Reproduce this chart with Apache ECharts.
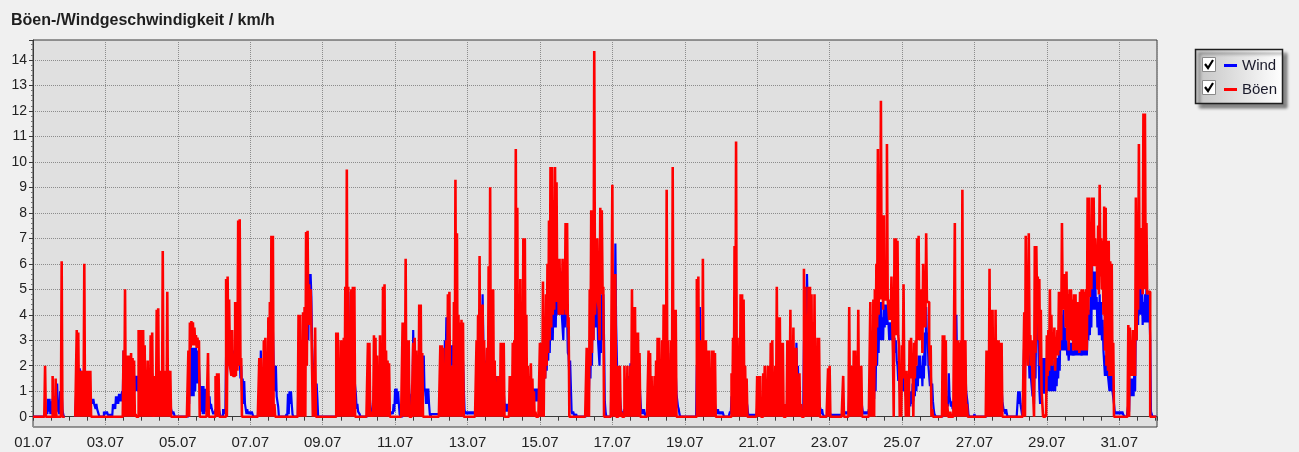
<!DOCTYPE html>
<html>
<head>
<meta charset="utf-8">
<script src="https://cdn.jsdelivr.net/npm/echarts/dist/echarts.min.js"></script>
<style>
html,body{margin:0;padding:0;background:#f0f0f0;}
#chart{width:1299px;height:452px;}
</style>
</head>
<body>
<div id="chart"></div>
<script>
// x values are hours since 01.07 00:00; tick labels every 2 days
const dateLabels = ['01.07','03.07','05.07','07.07','09.07','11.07','13.07','15.07',
                    '17.07','19.07','21.07','23.07','25.07','27.07','29.07','31.07'];
const seriesNames = ['Wind', 'Böen'];

// Böen (gusts) km/h: hourly upper values, one row per day (01.07 ... 31.07)
const gustHigh = [
[0,0,0,0,0,0,0,0,2.0,0,0,0,0,1.6,0,1.5,0,0,0,6.1,0,null,null,null],
[null,null,null,null,0,3.4,3.3,1.8,1.8,1.8,6.0,1.8,1.8,1.8,1.8,0,0,0,0,0,0,0,0,0],
[0,0,0,0,0,0,0,0,0,0,0,0,2.6,5.0,2.4,2.4,2.4,2.5,2.3,2.2,0.1,0,3.4,3.4],
[3.4,3.4,2.8,1.7,2.2,1.6,3.2,3.3,0.2,1.6,4.2,4.25,1.8,0.3,6.5,1.8,0.4,4.9,1.8,1.8,0,0,0,0],
[0,0,0,0,0,0,0,2.6,3.7,3.75,3.7,3.5,3.2,3.1,3.0,0,0,0,0,0,2.5,0,0,0],
[0,1.6,1.7,1.7,0,0,0,0,5.4,5.5,4.6,2.0,3.4,1.6,4.5,4.5,7.7,7.75,2.3,0,0,0,0,0],
[0,0,0,0,0,0,2.3,2.3,0.3,3.0,3.1,0.4,3.9,4.5,7.1,7.1,0.5,0,0,0,0,0,0,0],
[0,0,0,0,0,0,0,0,4.0,4.0,0.5,4.1,4.3,7.25,7.3,5.2,5.0,3.6,0.6,3.5,0,0,0,0],
[0,0,0,0,0,0,0,0,0,3.3,3.3,0.3,3.0,3.0,3.1,5.1,9.7,5.1,2.1,5.0,5.1,5.1,0,0],
[0,0,0,0,0,0,2.9,2.9,0.2,0.1,3.2,3.1,2.4,0.3,3.2,2.6,5.1,5.2,2.6,2.2,2.1,0,0,0],
[0,0,0,0,0,3.7,3.7,6.2,3.0,3.0,0,0,2.9,3.1,2.6,0.8,4.4,4.4,2.5,0,0,0,0,0],
[0,0,0,0,0,0,2.8,2.8,2.7,1.5,3.0,4.8,4.9,0.5,2.0,4.5,9.3,7.2,4.0,3.7,3.8,3.7,0,0],
[0,0,0,0,0,0,3.0,4.0,6.3,4.4,4.4,3.0,0.4,2.7,5.9,9.0,5.0,5.0,2.2,0.4,1.6,1.6,2.9,2.9],
[2.9,0,0,0,1.6,1.6,2.9,3.0,10.5,8.2,4.4,5.4,1.6,7.0,7.0,4.0,2.0,1.6,2.1,1.5,1.0,0.2,0,0],
[2.9,2.9,5.3,3.5,4.8,6.0,7.7,9.8,9.8,8.5,9.8,9.2,5.8,6.2,5.2,6.2,5.6,7.6,7.6,3.9,0,0,0,0],
[0,0,0,0,0,0,0,2.7,2.6,5.0,8.1,6.4,14.35,5.0,7.0,4.2,8.2,8.1,5.1,0,0,0,0,0],
[9.1,5.6,5.6,0,2.0,2.0,0.2,0,2.0,0.3,2.0,1.2,2.0,5.0,4.3,4.3,3.3,3.3,2.5,0,0,0,0,0],
[2.6,2.5,1.6,1.2,1.6,2.2,3.1,3.1,1.8,3.0,4.4,3.0,8.9,3.0,2.0,3.0,9.8,4.2,4.2,0,0,0,0,0],
[0,0,0,0,0,0,0,0,5.4,5.5,3.0,1.5,6.2,3.0,3.0,2.6,2.6,1.0,2.6,2.6,2.5,0,0,0],
[0,0,0,0,0,0,0,1.7,3.1,6.7,10.8,3.1,2.0,4.8,4.8,4.6,2.0,1.5,0,0,0,0,0,0],
[1.6,1.6,1.6,0,1.7,2.0,1.0,2.0,2.0,2.9,3.0,1.6,2.0,5.1,3.9,3.9,2.9,2.9,0,0.5,3.0,3.0,4.2,3.0],
[3.5,2.7,2.7,1.5,1.7,0.5,0,5.8,5.1,4.0,5.1,5.1,4.8,3.7,4.8,2.0,3.1,3.1,0,0,0,0,0,1.9],
[2.0,0,0,0,0,0,0,0,0,1.6,0,0,0,4.3,2.0,2.0,2.6,2.6,1.5,4.2,2.0,2.0,0,0],
[0,0,0,4.5,0.8,4.6,5.0,6.0,10.5,8.0,12.4,5.8,7.9,4.6,10.7,4.2,4.6,5.5,2.5,7.0,7.0,6.9,2.8,1.6],
[2.8,5.2,1.8,1.8,1.5,3.0,3.1,2.0,2.9,3.0,7.0,7.1,5.0,5.0,6.0,4.8,7.2,4.5,2.8,2.8,0.3,0,0,0],
[0,0,0,3.2,3.2,3.0,0.5,0,0.2,0,0,7.6,1.5,3.0,2.9,3.0,8.9,3.0,3.0,0.5,0,0,0,0],
[0,0,0,0,0,0,0,0,2.6,2.6,5.8,4.2,4.2,3.0,4.2,3.0,3.0,2.9,2.9,0,0,0,0,0],
[0,0,0,0,0,0,0,0,0,4.1,7.1,3.2,7.2,3.2,3.0,1.5,6.7,6.7,5.5,5.4,4.2,1.0,0,0.1],
[3.2,3.4,5.0,4.0,3.0,3.5,3.0,3.4,4.9,4.5,7.6,5.6,5.6,5.7,4.8,5.0,5.0,4.6,4.8,4.8,4.5,4.5,4.9,5.0],
[5.0,4.9,5.0,8.6,8.6,6.5,8.6,8.6,7.0,6.5,7.5,9.1,7.0,6.9,8.25,8.2,6.9,6.9,6.1,6.0,2.9,0,0,0],
[0,0,0,0,0,0,3.6,3.5,3.0,3.4,3.0,8.6,6.6,10.7,7.4,6.6,11.9,11.9,7.6,4.9,4.9,0,0,0,0]
];

// Böen km/h: hourly lower values (bottom of the band the gusts sweep within each hour)
const Z24 = [0,0,0,0,0,0,0,0,0,0,0,0,0,0,0,0,0,0,0,0,0,0,0,0];
const gustLow = [
[0,0,0,0,0,0,0,0,0,0,0,0,0,0,0,0,0,0,0,0,0,null,null,null],
[null,null,null,null,0,0,0,0,0,0,0,0,0,0,0,0,0,0,0,0,0,0,0,0],
Z24, Z24,
[0,0,0,0,0,0,0,0,2.7,2.8,2.8,2.8,2.7,2.7,0,0,0,0,0,0,0,0,0,0],
[0,0,0,0,0,0,0,0,0,2.0,2.0,1.6,1.6,1.6,1.6,1.8,2.0,2.0,0,0,0,0,0,0],
Z24,
[0,0,0,0,0,0,0,0,0,0,0,0,0,2.0,3.6,3.6,3.6,0,0,0,0,0,0,0],
Z24, Z24, Z24, Z24, Z24, Z24,
[0,0,0,1.5,2.0,2.5,3.0,3.5,4.0,4.2,4.5,4.5,4.0,4.0,4.0,4.0,4.2,4.0,3.5,0,0,0,0,0],
[0,0,0,0,0,0,0,0,0,2.0,2.5,3.0,4.0,4.5,4.5,3.0,4.8,5.0,0,0,0,0,0,0],
Z24, Z24, Z24, Z24, Z24, Z24, Z24,
[0,0,0,0,0,0,2.0,3.5,4.0,4.6,4.6,4.2,4.6,4.6,4.6,3.8,3.8,3.8,0,3.2,3.2,3.2,0,0],
[1.5,1.5,0,0,0,1.5,1.5,0,1.5,2.0,3.0,3.0,3.0,2.5,3.5,3.5,4.5,4.5,2.0,0,0,0,0,0],
Z24, Z24,
[0,0,0,0,0,0,0,0,0,0,3.0,2.0,3.0,2.0,1.5,0,2.5,4.5,3.0,2.0,1.0,0,0,0],
[1.6,1.8,2.0,2.0,2.4,1.8,2.4,2.4,2.6,3.0,4.2,4.2,3.5,3.0,2.6,3.0,3.0,2.6,2.6,2.6,2.6,2.5,2.6,2.6],
[2.6,2.6,2.6,4.0,4.7,5.0,5.9,5.9,5.9,5.0,4.8,5.5,5.0,4.0,2.6,2.0,1.8,1.6,1.6,1.6,0,0,0,0],
[0,0,0,0,0,0,0,1.6,1.6,1.6,1.6,3.0,4.2,5.0,5.0,4.8,5.0,5.0,4.8,4.9,0,0,0,0,0]
];

// Wind km/h: hourly upper values
const windHigh = [
[0,0,0,0,0,0,0,0,0.3,0.3,0.7,0.7,0.6,0.7,0.8,0.7,1.3,0.3,1.0,1.0,0.1,null,null,null],
[null,null,null,null,0,1.5,1.9,1.9,1.8,1.0,1.8,1.5,1.0,0.9,0.9,0.7,0.7,0.5,0.5,0.2,0,0,0,0.2],
[0.2,0.2,0.1,0.1,0.1,0.5,0.5,0.8,0.8,0.9,0.9,1.0,2.6,1.5,1.4,1.4,1.4,1.8,1.4,1.5,1.6,1.6,1.6,1.2],
[1.5,1.6,1.6,1.6,1.2,1.6,1.8,1.7,1.0,1.6,1.7,1.5,1.05,1.0,1.8,1.5,1.2,1.8,1.8,0.8,0.2,0.2,0,0],
[0,0,0,0,0,0,0,1.4,2.0,2.7,2.7,2.7,2.7,2.6,2.0,1.35,1.2,1.2,1.1,0.6,1.0,0.8,0.5,0.2],
[0.2,0.3,0.3,0.4,0.1,0,0.3,0.3,2.5,2.6,2.6,3.4,2.6,2.6,2.6,3.7,3.7,2.4,2.0,1.5,1.4,0.5,0.3,0.2],
[0.2,0.2,0,0,0,0,1.0,2.6,1.0,1.2,1.4,0.8,1.0,1.5,3.0,3.4,2.0,2.0,0.8,0,0,0,0,0],
[0.1,0.9,1.0,1.0,0.1,0,0,0,2.0,1.8,2.2,2.5,3.0,4.0,5.0,5.6,5.6,2.8,2.1,1.3,1.3,0,0,0],
[0,0,0,0,0,0,0,0,0,1.0,1.8,1.5,1.8,2.0,2.2,2.8,4.8,4.9,2.2,3.9,3.5,2.0,0.9,0.5],
[0.2,0,0,0,0,0,0.7,1.0,0.3,0.3,1.2,1.5,1.8,1.2,1.4,1.3,1.2,1.5,1.2,1.0,0.4,0.2,0.2,0.5],
[1.1,1.1,1.0,0.1,0,0.8,1.5,2.0,2.0,1.6,0.3,0.9,3.4,2.9,1.5,1.4,1.4,2.0,1.4,2.4,1.1,1.1,1.1,0.1],
[0.1,0.1,0.1,0.1,0.1,0.1,1.5,2.0,2.5,3.0,3.9,2.9,2.8,2.8,2.8,3.0,3.8,3.8,3.0,3.0,2.8,2.2,0.3,0.2],
[0.2,0.2,0.2,0.2,0.2,0.2,2.0,2.9,3.0,3.8,4.8,2.6,2.2,2.0,3.0,3.6,3.0,2.2,1.8,1.6,0.8,1.0,1.2,1.0],
[1.0,0.5,0.5,0.5,0.6,0.9,1.2,1.5,3.0,2.5,2.5,1.5,2.8,2.4,2.4,2.0,1.8,1.6,1.2,1.0,1.1,1.1,1.1,1.1],
[1.1,1.5,2.0,2.5,2.8,3.5,4.0,4.2,4.2,4.8,5.0,5.7,5.5,5.7,5.7,4.0,4.5,5.2,4.0,2.4,2.2,0.2,0.2,0],
[0.1,0,0,0,0,0,0,1.0,2.0,2.5,3.5,5.5,5.5,5.5,4.5,3.0,4.0,4.8,4.8,0.6,0,0,0,0],
[3.8,3.8,6.8,3.6,1.0,0.8,0.2,0.2,0.3,1.0,1.5,1.6,2.1,2.2,2.3,2.5,2.2,1.8,1.5,0.3,0.3,0.3,0.1,0.2],
[1.2,1.4,1.2,1.0,1.0,1.3,1.6,1.6,1.6,1.6,1.7,2.0,2.5,2.5,2.2,1.8,2.5,2.2,1.8,0.9,0.3,0,0,0],
[0,0,0,0,0,0,0,0,2.0,3.0,4.3,1.6,2.5,2.8,1.6,1.5,1.2,1.0,1.3,1.5,0.5,0.3,0.3,0.2],
[0.2,0.2,0,0,0,0,0.2,0.8,1.7,2.5,2.5,2.0,1.7,1.5,1.6,1.6,1.5,0.8,0.1,0.1,0.1,0.1,0.1,0.1],
[0.4,0.3,0.5,0.3,0.8,1.0,1.0,1.2,1.4,1.5,1.7,1.7,1.5,1.7,1.5,1.3,1.1,0.6,0.3,0.3,1.0,1.7,2.0,2.9],
[1.0,1.0,2.9,2.0,0.8,0.3,0.3,3.0,3.5,5.6,4.2,3.8,2.5,2.1,2.1,1.0,1.0,0.8,0.3,0.3,0.1,0,0,0.3],
[0.2,0.1,0.1,0.1,0.1,0.1,0.1,0.1,0.1,0.2,0.2,0.2,0.2,1.0,1.5,1.2,1.5,1.2,1.0,1.6,1.4,0.8,0.2,0.2],
[0.2,0.2,0.3,0.7,0.7,1.5,2.0,3.5,3.9,4.5,4.5,3.9,4.4,4.4,4.4,3.7,3.7,3.7,3.1,3.1,3.0,2.0,1.7,1.7],
[1.7,2.0,1.5,1.3,1.0,0.8,1.0,1.3,1.5,1.8,2.0,2.4,2.4,2.0,2.4,3.3,4.3,3.3,2.0,1.8,1.3,0.3,0.1,0],
[0,0,0,0.5,0.8,0.8,0.8,1.7,0.8,0.6,0.5,3.0,4.0,1.5,2.9,2.2,3.0,3.0,2.0,1.0,0.1,0,0,0],
[0.1,0,0,0,0,0,0,0,1.5,1.5,2.0,2.7,2.0,2.7,2.0,2.0,1.7,1.8,1.2,0.4,0.3,0.3,0,0],
[0,0,0,0,0,1.0,1.0,0.3,0,3.0,3.5,4.3,2.4,2.4,1.5,1.0,2.5,4.2,3.7,1.1,2.0,2.3,2.3,2.3],
[2.2,2.3,2.3,2.2,2.0,2.2,2.3,2.3,2.5,3.5,4.0,4.2,3.5,3.0,2.6,2.9,2.9,2.6,2.6,2.9,2.9,2.8,2.8,2.6],
[2.8,2.8,2.9,3.5,4.2,4.7,5.9,5.7,5.7,4.7,4.5,4.8,4.5,3.8,2.6,2.4,2.4,1.6,1.6,1.6,1.0,0.2,0.2,0.2],
[0.2,0.2,0.2,0.1,0,0,0.5,1.5,1.5,1.5,2.0,4.0,5.8,6.7,5.7,5.0,4.5,4.8,5.0,4.8,4.1,0.2,0,0,0]
];

// Wind km/h: hourly lower values
const windLow = [
[0,0,0,0,0,0,0,0,0.1,0.1,0.2,0.1,0.1,0.2,0.2,0.2,0.3,0.1,0.3,0.3,0,null,null,null],
[null,null,null,null,0,0.5,1.0,1.0,1.0,0.5,1.0,0.8,0.5,0.5,0.5,0.5,0.5,0.3,0.3,0.1,0,0,0,0.1],
[0.1,0.1,0,0,0,0.3,0.3,0.5,0.5,0.6,0.6,0.7,1.5,1.0,1.0,1.0,1.0,1.0,1.0,1.0,1.0,1.0,1.0,0.8],
[1.0,1.0,1.0,1.0,0.8,1.0,1.0,1.0,0.6,1.0,1.0,1.0,0.6,0.5,1.0,1.0,0.6,1.0,1.0,0.3,0.1,0.1,0,0],
[0,0,0,0,0,0,0,0.5,0.8,0.8,0.8,1.0,1.3,1.3,1.3,0.2,0.1,0.1,0.2,0.3,0.3,0.3,0.3,0.1],
[0.1,0.1,0.1,0.2,0,0,0.1,0.1,1.5,2.0,2.0,2.2,2.0,2.0,2.0,2.0,2.0,1.5,1.0,0.5,0.5,0.1,0.1,0.1],
[0.1,0.1,0,0,0,0,0.5,1.0,0.6,0.6,0.8,0.5,0.6,0.8,1.5,2.0,1.0,0.8,0.4,0,0,0,0,0],
[0,0.1,0.5,0.5,0,0,0,0,1.0,1.0,1.0,1.5,2.0,2.5,3.0,4.7,4.7,2.0,1.3,0.8,0.7,0,0,0],
[0,0,0,0,0,0,0,0,0,0.5,1.0,1.0,1.0,1.2,1.2,1.5,2.5,2.5,1.5,2.0,2.0,1.2,0.3,0.2],
[0.1,0,0,0,0,0,0.3,0.5,0.1,0.1,0.6,0.8,1.0,0.6,0.8,0.7,0.6,0.8,0.6,0.5,0.2,0.1,0.1,0.2],
[0.5,0.5,0.5,0,0,0.3,0.8,1.0,1.0,0.8,0.1,0.3,1.5,1.5,0.8,0.8,0.8,1.0,0.8,1.0,0.5,0.5,0.5,0],
[0.1,0.1,0.1,0.1,0.1,0.1,0.8,1.0,1.5,2.0,2.5,2.0,2.0,2.0,2.0,2.0,2.5,2.5,2.0,2.0,1.8,1.2,0.1,0.1],
[0.1,0.1,0.1,0.1,0.1,0.1,1.0,1.5,2.0,2.5,3.0,1.5,1.2,1.2,1.8,2.0,1.8,1.2,1.0,0.8,0.4,0.5,0.6,0.5],
[0.5,0.2,0.2,0.2,0.3,0.4,0.6,0.8,1.5,1.3,1.3,0.8,1.5,1.3,1.3,1.0,1.0,0.8,0.6,0.5,0.6,0.6,0.6,0.6],
[0.6,0.8,1.0,1.5,1.8,2.2,2.5,3.0,3.0,3.5,3.5,4.0,4.0,4.0,4.0,3.0,3.5,3.8,2.5,1.5,1.2,0.1,0.1,0],
[0,0,0,0,0,0,0,0.5,1.0,1.5,2.0,3.0,3.5,3.5,3.0,2.0,2.5,3.0,3.0,0.2,0,0,0,0],
[2.0,2.0,3.6,1.0,0.5,0.4,0.1,0.1,0.1,0.5,0.8,0.8,1.2,1.2,1.2,1.2,1.2,1.0,0.8,0.1,0.1,0.1,0,0.1],
[0.6,0.7,0.6,0.5,0.5,0.7,0.8,0.8,0.8,0.8,0.9,1.0,1.2,1.2,1.1,0.9,1.2,1.1,0.9,0.4,0.1,0,0,0],
[0,0,0,0,0,0,0,0,1.0,1.5,2.5,0.8,1.2,1.4,0.8,0.8,0.6,0.5,0.6,0.8,0.2,0.1,0.1,0.1],
[0.1,0.1,0,0,0,0,0.1,0.4,0.8,1.2,1.2,1.0,0.8,0.8,0.8,0.8,0.8,0.4,0,0,0,0,0,0],
[0.2,0.1,0.2,0.1,0.4,0.5,0.5,0.6,0.7,0.8,0.9,0.9,0.8,0.9,0.8,0.7,0.6,0.3,0.1,0.1,0.5,0.9,1.0,1.5],
[0.5,0.5,1.5,1.0,0.4,0.1,0.1,1.5,2.0,4.2,2.5,2.0,1.5,1.2,1.2,0.5,0.5,0.4,0.1,0.1,0,0,0,0.1],
[0.1,0,0,0,0,0,0,0,0,0.1,0.1,0.1,0.1,0.5,0.8,0.6,0.8,0.6,0.5,0.8,0.7,0.4,0.1,0.1],
[0.1,0.1,0.1,0.3,0.3,0.7,1.0,2.0,2.5,3.0,3.0,3.0,3.5,3.6,3.6,3.0,3.0,3.0,2.5,2.5,2.2,1.4,1.0,1.0],
[1.0,1.0,0.8,0.6,0.5,0.4,0.5,0.6,0.8,1.0,1.2,1.5,1.5,1.2,1.5,2.0,3.0,2.0,1.2,1.0,0.6,0.1,0,0],
[0,0,0,0.2,0.4,0.4,0.4,0.8,0.4,0.3,0.2,1.5,2.0,0.8,1.5,1.1,1.5,1.5,1.0,0.5,0,0,0,0],
[0,0,0,0,0,0,0,0,0.8,0.8,1.0,1.5,1.0,1.5,1.0,1.0,0.8,0.9,0.6,0.2,0.1,0.1,0,0],
[0,0,0,0,0,0.5,0.5,0.1,0,1.5,2.5,3.0,1.5,1.5,0.8,0.5,1.5,3.0,2.5,0.5,1.0,0.9,0.9,0.9],
[1.0,1.0,1.0,1.0,1.0,1.0,1.2,1.5,1.8,2.6,2.6,2.6,2.6,2.4,2.2,2.4,2.4,2.4,2.4,2.4,2.4,2.4,2.4,2.4],
[2.4,2.4,2.4,3.0,3.2,3.5,4.2,4.2,4.2,3.5,3.2,3.2,3.0,2.6,1.6,1.6,1.6,1.0,1.0,1.0,0.5,0.1,0.1,0.1],
[0.1,0.1,0.1,0,0,0,0.2,0.8,0.8,0.8,1.0,3.0,3.6,4.0,4.0,3.6,3.7,3.7,3.7,3.7,3.0,0.1,0,0,0]
];

const X_MAX = 745;

// Each hour is drawn as its upper value then its lower value (half an hour later),
// so the line sweeps the band between them, as the original dense logger trace does.
function bandData(highRows, lowRows) {
  const hi = [].concat(...highRows), lo = [].concat(...lowRows);
  const out = [];
  for (let i = 0; i < hi.length; i++) {
    if (hi[i] === null) { out.push([i, '-'], [i + 0.5, '-']); continue; }
    out.push([i, hi[i]], [i + 0.5, lo[i] === null ? hi[i] : lo[i]]);
  }
  return out;
}

const chart = echarts.init(document.getElementById('chart'), null, {renderer: 'canvas'});
const FONT = '"Liberation Sans", Arial, sans-serif';

chart.setOption({
  animation: false,
  backgroundColor: '#f0f0f0',
  title: {
    text: 'Böen-/Windgeschwindigkeit / km/h',
    left: 6, top: 8,
    textStyle: {fontFamily: FONT, fontSize: 16, fontWeight: 'bold', color: '#1e1e1e'}
  },
  legend: {
    z: 10,
    orient: 'vertical',
    left: 1219, top: 53,
    itemWidth: 13, itemHeight: 3, itemGap: 9,
    icon: 'rect',
    selectedMode: false,
    textStyle: {fontFamily: FONT, fontSize: 15, color: '#1a1a2a'},
    data: seriesNames
  },
  grid: [
    {left: 33, top: 40, width: 1124, height: 376.7, show: false},
    {left: 33, top: 40, width: 1124, height: 387, show: true,
     backgroundColor: '#e0e0e0', borderColor: '#3a3a3a', borderWidth: 1}
  ],
  xAxis: [
    {
      type: 'value', gridIndex: 0, min: 0, max: X_MAX, interval: 12, offset: 10.3,
      axisLine: {show: true, lineStyle: {color: '#3a3a3a', width: 1}},
      axisTick: {show: true, length: 4, lineStyle: {color: '#3a3a3a'}},
      axisLabel: {
        margin: 8, fontFamily: FONT, fontSize: 15, color: '#222',
        formatter: v => (v % 48 === 0 && v / 48 < dateLabels.length) ? dateLabels[v / 48] : ''
      },
      splitLine: {show: false}
    },
    {
      type: 'value', gridIndex: 1, min: 0, max: X_MAX, interval: 48,
      axisLine: {show: false}, axisTick: {show: false}, axisLabel: {show: false},
      splitLine: {show: true, lineStyle: {type: 'dotted', color: '#8c8c8c', width: 1}}
    }
  ],
  yAxis: [
    {
      type: 'value', gridIndex: 0, min: 0, max: 14.78, interval: 1,
      axisLine: {show: true, lineStyle: {color: '#3a3a3a'}},
      axisTick: {show: true, length: 4, lineStyle: {color: '#3a3a3a'}},
      minorTick: {show: true, splitNumber: 5, length: 2, lineStyle: {color: '#777'}},
      axisLabel: {
        margin: 6, fontFamily: FONT, fontSize: 14, color: '#222',
        formatter: v => Number.isInteger(v) ? String(v) : ''
      },
      splitLine: {show: true, lineStyle: {type: 'dotted', color: '#8c8c8c', width: 1}}
    },
    {type: 'value', gridIndex: 1, min: 0, max: 1, show: false}
  ],
  series: [
    {
      name: seriesNames[0], type: 'line', step: 'end', xAxisIndex: 0, yAxisIndex: 0,
      data: bandData(windHigh, windLow), showSymbol: false, symbol: 'none', connectNulls: false,
      color: '#0000ff', lineStyle: {color: '#0000ff', width: 2.2}, z: 3
    },
    {
      name: seriesNames[1], type: 'line', step: 'end', xAxisIndex: 0, yAxisIndex: 0,
      data: bandData(gustHigh, gustLow), showSymbol: false, symbol: 'none', connectNulls: false,
      color: '#ff0000', lineStyle: {color: '#ff0000', width: 2.6}, z: 4
    }
  ],
  graphic: [
    {type: 'rect', z: 1, shape: {x: 1195.5, y: 49.5, width: 87, height: 54},
     style: {fill: new echarts.graphic.LinearGradient(0, 0, 1, 0, [{offset: 0, color: '#c4c4c4'}, {offset: 1, color: '#ffffff'}]),
             stroke: '#1e1e1e', lineWidth: 1.5, shadowBlur: 3, shadowOffsetX: 4, shadowOffsetY: 4, shadowColor: 'rgba(0,0,0,0.45)'}},
    {type: 'rect', z: 2, shape: {x: 1202.5, y: 57.5, width: 13, height: 14},
     style: {fill: '#ffffff', stroke: '#8a8a8a', lineWidth: 1}},
    {type: 'polyline', z: 3, shape: {points: [[1205, 64], [1208, 68], [1213, 60]]},
     style: {stroke: '#000', lineWidth: 2.2, fill: null}},
    {type: 'rect', z: 2, shape: {x: 1202.5, y: 80.5, width: 13, height: 14},
     style: {fill: '#ffffff', stroke: '#8a8a8a', lineWidth: 1}},
    {type: 'polyline', z: 3, shape: {points: [[1205, 87], [1208, 91], [1213, 83]]},
     style: {stroke: '#000', lineWidth: 2.2, fill: null}}
  ]
});
</script>
</body>
</html>
